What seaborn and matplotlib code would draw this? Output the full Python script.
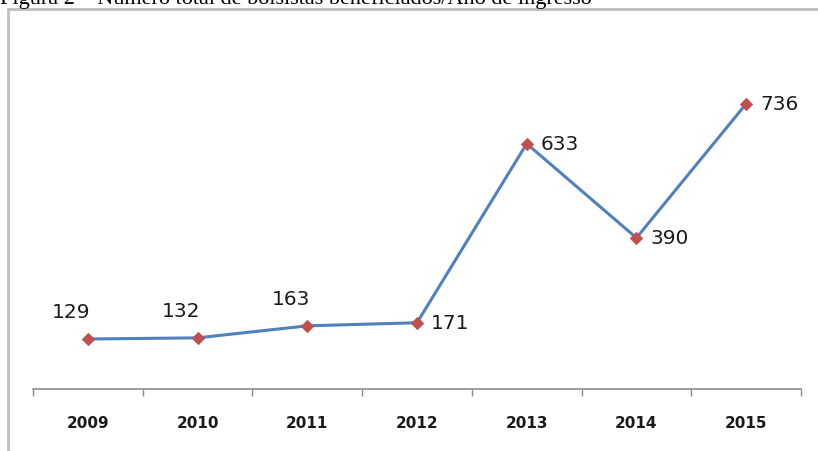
import numpy as np
import matplotlib.pyplot as plt
import seaborn as sns
from matplotlib.lines import Line2D
from matplotlib.ticker import FixedLocator

sns.set_style('white')
plt.rcParams['font.family'] = ['DejaVu Sans']

# data
years = ['2009', '2010', '2011', '2012', '2013', '2014', '2015']
bolsistas = [129, 132, 163, 171, 633, 390, 736]
title = 'Figura 2 – Número total de bolsistas beneficiados/Ano de ingresso'

W, H = 818, 452
fig = plt.figure(figsize=(W / 100, H / 100), dpi=100)
ax = fig.add_axes([33 / W, (H - 390) / H, (801 - 33) / W, (390 - 80) / H])

pos = np.arange(len(years))
sns.lineplot(x=pos, y=bolsistas, ax=ax, color='#4F81BD', linewidth=2.2,
             marker='D', markersize=6, markerfacecolor='#C0504D',
             markeredgecolor='#C0504D')

for i, v in enumerate(bolsistas):
    if i < 3:
        ax.annotate(str(v), (pos[i], v), xytext=(-12, 20), textcoords='offset points',
                    ha='center', va='center', fontsize=14.5, color='#1a1a1a')
    else:
        ax.annotate(str(v), (pos[i], v), xytext=(10, 0), textcoords='offset points',
                    ha='left', va='center', fontsize=14.5, color='#1a1a1a')

ax.set_xlim(-0.5, len(years) - 0.5)
ax.set_ylim(0, 800)
ax.set_xticks(pos)
ax.set_xticklabels(years, fontweight='bold', fontsize=11, color='#1a1a1a')
ax.xaxis.set_minor_locator(FixedLocator(np.arange(-0.5, len(years), 1.0)))
ax.tick_params(axis='x', which='major', length=0, pad=19)
ax.tick_params(axis='x', which='minor', length=5, width=1, color='#8c8c8c',
               direction='out', bottom=True)
ax.set_yticks([])
for s in ['top', 'right', 'left']:
    ax.spines[s].set_visible(False)
ax.spines['bottom'].set_color('#8c8c8c')
ax.spines['bottom'].set_linewidth(1.2)

# outer frame of the embedded chart (top and left edges)
fig.add_artist(Line2D([8 / W, 1], [1 - 10 / H, 1 - 10 / H], color='#bdbdbd', lw=2))
fig.add_artist(Line2D([8 / W, 8 / W], [0, 1 - 10 / H], color='#bdbdbd', lw=2))

# caption, partly cut off at the top in the source
fig.text(0, 1 - 4 / H, title, family='Liberation Serif', fontsize=16,
         ha='left', va='baseline', color='black')

plt.savefig('out.png', dpi=100)
